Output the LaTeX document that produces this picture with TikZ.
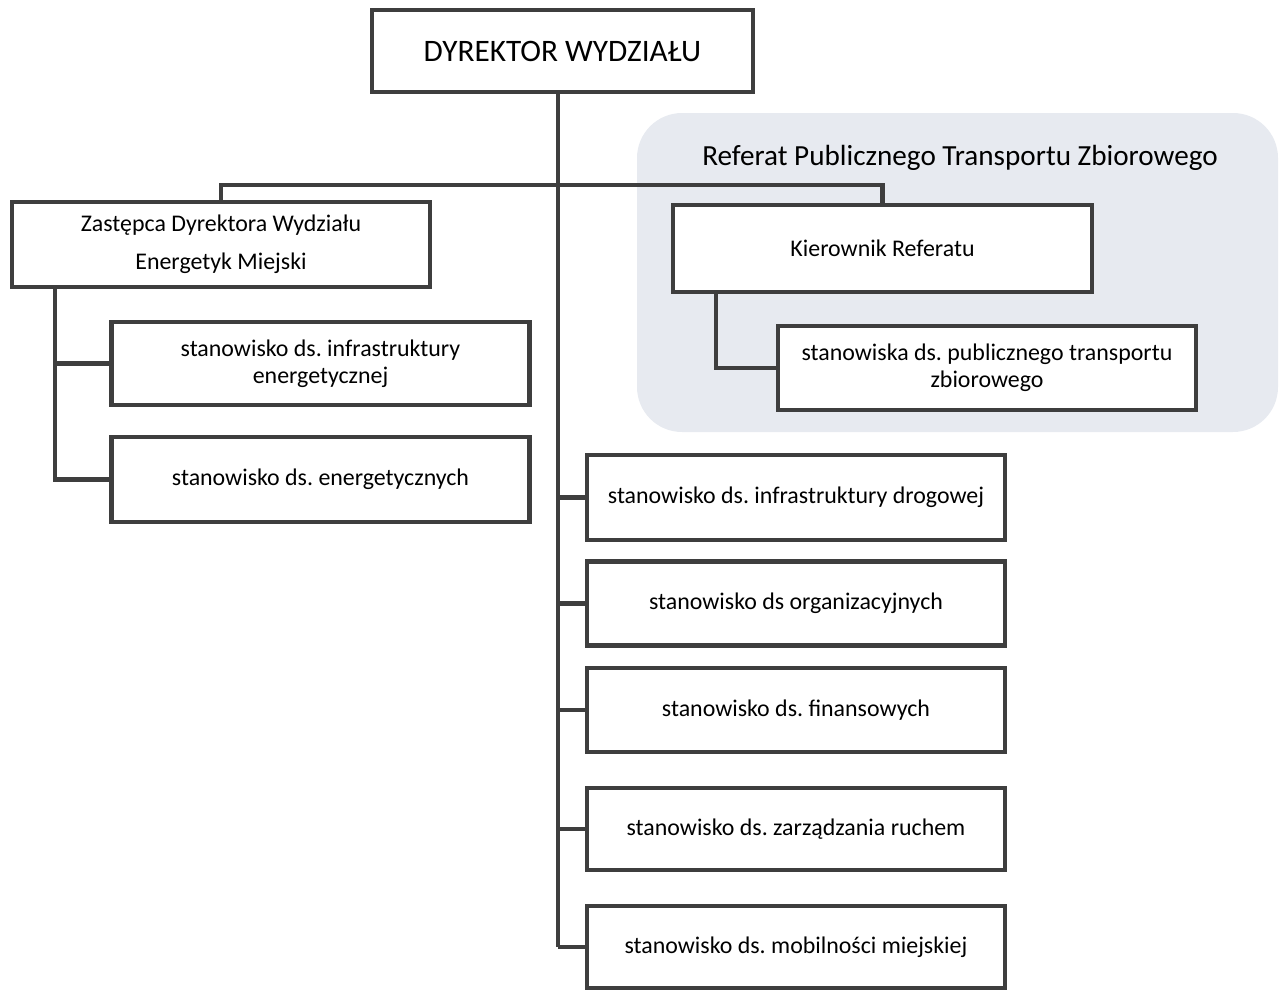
\documentclass[tikz,border=0pt]{standalone}
\usepackage{fontspec}
\setmainfont{Carlito}
\frenchspacing
\usetikzlibrary{positioning}
\definecolor{linegray}{RGB}{62,62,62}
\definecolor{groupbg}{RGB}{231,234,240}
\tikzset{
  box/.style={draw=linegray, line width=2.4pt, fill=white, minimum width=8.36cm,
              minimum height=1.68cm, align=center, inner sep=2pt, font=\fontsize{13.6}{15.5}\selectfont},
  link/.style={draw=linegray, line width=2.6pt}
}

\begin{document}
\begin{tikzpicture}[x=0.02cm,y=-0.02cm]
                \useasboundingbox (0,0) rectangle (1287,990);
                % referat background
                \fill[groupbg, rounded corners=0.9cm] (637,113) rectangle (1278,432);
                \node[font=\fontsize{16.6}{20}\selectfont] (reftitle) at (960,158) {Referat Publicznego Transportu Zbiorowego};

                \node[box, minimum width=7.62cm, minimum height=1.64cm, font=\fontsize{17.8}{22}\selectfont] (dyr) at (562.5,51) {DYREKTOR WYDZIAŁU};
                \node[box, minimum height=1.7cm, font=\fontsize{13.6}{21.5}\selectfont] (zast) at (221,244.5) {Zastępca Dyrektora Wydziału\\Energetyk Miejski};
                \node[box, minimum height=1.66cm] (infen) at (320.5,363.5) {stanowisko ds. infrastruktury\\energetycznej};
                \node[box, minimum height=1.7cm] (energ) at (320.5,479.5) {stanowisko ds. energetycznych};
                \node[box, minimum width=8.38cm, minimum height=1.74cm] (kier) at (882.5,248.5) {Kierownik Referatu};
                \node[box] (publ) at (987,368) {stanowiska ds. publicznego transportu\\zbiorowego};

                \node[box, minimum height=1.7cm] (drog) at (796,497.5) {stanowisko ds. infrastruktury drogowej};
                \node[box] (org) at (796,603.5) {stanowisko ds organizacyjnych};
                \node[box] (fin) at (796,710) {stanowisko ds. finansowych};
                \node[box, minimum height=1.64cm] (ruch) at (796,829) {stanowisko ds. zarządzania ruchem};
                \node[box, minimum height=1.64cm] (mob) at (796,947) {stanowisko ds. mobilności miejskiej};

                \coordinate (bar) at (558,185);
                \coordinate (trunk) at (558,92);
                \coordinate (ltrunk) at (55,287);
                \coordinate (ktrunk) at (716,292);

                % connectors
                \draw[link] (trunk) -- (trunk |- mob.west);
                \draw[link] (zast.north) |- (bar) -| (kier.north);
                \foreach \n in {drog,org,fin,ruch,mob}
                    \draw[link] (trunk |- \n.west) -- (\n.west);
                \draw[link] (ltrunk) |- (infen.west);
                \draw[link] (ltrunk) |- (energ.west);
                \draw[link] (ktrunk) |- (publ.west);
            \end{tikzpicture}
\end{document}
